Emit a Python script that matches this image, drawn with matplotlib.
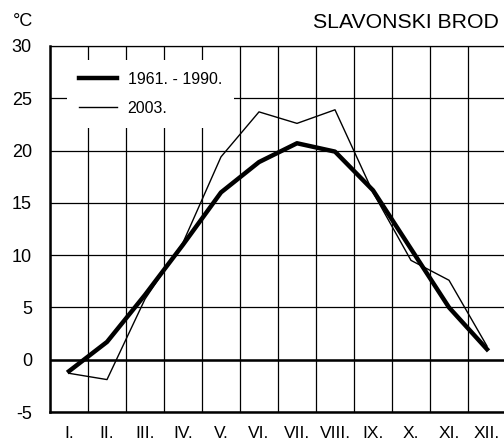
import numpy as np
import matplotlib.pyplot as plt

plt.rcParams['font.family'] = ['Liberation Sans', 'DejaVu Sans']
plt.rcParams['axes.unicode_minus'] = False

# mjeseci
months = ['I.', 'II.', 'III.', 'IV.', 'V.', 'VI.', 'VII.', 'VIII.', 'IX.', 'X.', 'XI.', 'XII.']
# srednje mjesecne temperature
t_1961_1990 = [-1.1, 1.7, 6.2, 11.0, 16.0, 18.9, 20.7, 19.9, 16.2, 10.6, 5.0, 1.0]
t_2003 = [-1.3, -1.9, 5.8, 11.2, 19.4, 23.7, 22.6, 23.9, 16.0, 9.5, 7.6, 1.3]

x = np.arange(len(months)) + 0.5

fig = plt.figure(figsize=(5.04, 4.44), dpi=100)
ax = fig.add_axes([50 / 504, 1 - 412 / 444, 456 / 504, 366 / 444])

ax.plot(x, t_1961_1990, color='black', lw=3.2, label='1961. - 1990.', zorder=3)
ax.plot(x, t_2003, color='black', lw=1.0, label='2003.', zorder=3)

ax.set_xlim(0, 12)
ax.set_ylim(-5, 30)

# mreza
ax.set_xticks(np.arange(0, 13))
ax.set_xticks(x, minor=True)
ax.set_xticklabels([''] * 13)
ax.set_xticklabels(months, minor=True)
ax.set_yticks(np.arange(-5, 31, 5))
ax.tick_params(axis='both', which='both', length=0, labelsize=13)
ax.tick_params(axis='y', pad=13)
ax.tick_params(axis='x', which='minor', pad=10, labelsize=12.5)
ax.grid(True, which='major', color='black', lw=0.9)
ax.axhline(0, color='black', lw=1.8, zorder=2)

for s in ['left', 'bottom']:
    ax.spines[s].set_linewidth(1.8)
ax.spines['top'].set_linewidth(0.9)
ax.spines['right'].set_visible(False)

leg = ax.legend(loc='upper left', bbox_to_anchor=(17 / 456, 1 - 14 / 366),
                frameon=True, fancybox=False, edgecolor='white', facecolor='white',
                framealpha=1, fontsize=11.5, handlelength=2.4, handletextpad=0.65,
                borderpad=0.75, labelspacing=0.85, borderaxespad=0)
leg.get_frame().set_linewidth(0)

fig.text(13 / 504, 1 - 21 / 444, '°C', fontsize=13, va='center', ha='left')
fig.text(499 / 504, 1 - 22 / 444, 'SLAVONSKI BROD', fontsize=15.3, va='center', ha='right')

fig.savefig('out.png', dpi=100)
